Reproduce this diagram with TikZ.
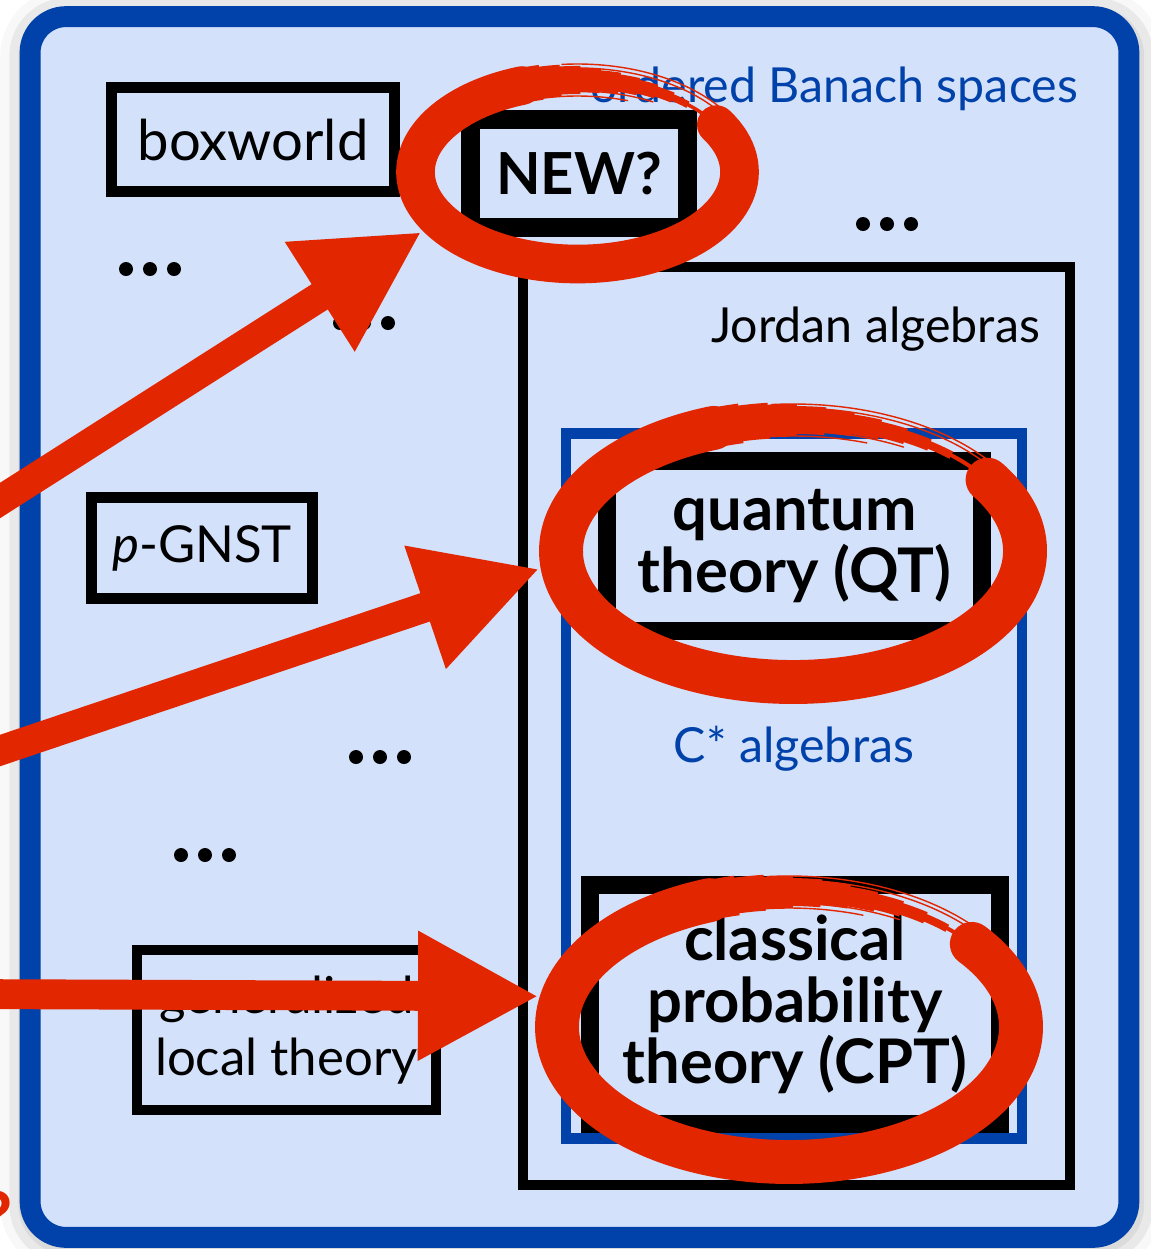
\documentclass[tikz,border=0pt]{standalone}
\usepackage{fontspec}
\setmainfont{Lato}
\usetikzlibrary{arrows.meta, shapes.geometric, shadows.blur}
\definecolor{cframe}{RGB}{0, 66, 170}
\definecolor{cpaper}{RGB}{211, 225, 250}
\definecolor{cred}{RGB}{225, 38, 0}

\begin{document}
\begin{tikzpicture}[
  x=0.02cm, y=-0.02cm,
  every node/.style={inner sep=0pt, outer sep=0pt},
  labeltxt/.style={font=\fontsize{27.5}{33}\selectfont, color=cframe},
  theory/.style={rectangle, draw, line width=6.2pt, align=center, font=\fontsize{29}{35}\selectfont},
  bigtheory/.style={rectangle, draw, line width=10.6pt, align=center, font=\fontsize{35}{35}\selectfont\bfseries},
  ringzone/.style={ellipse, inner sep=0pt},
  brush/.style={draw=cred, line cap=round},
  bigarrow/.style={cred, line width=17pt, -{Triangle[length=2.42cm, width=2.42cm]},
    preaction={draw=black, opacity=.3, transform canvas={shift={(2.5pt,-3.5pt)}}}},
]
\useasboundingbox (0,0) rectangle (1151,1249);

% ---- outer frame: ordered Banach spaces ----
\node[rectangle, rounded corners=0.72cm, draw=cframe, fill=cpaper, line width=11.9pt,
  minimum width=21.98cm, minimum height=24.42cm,
  blur shadow={shadow xshift=1pt, shadow yshift=-2pt, shadow blur radius=18pt, shadow opacity=45}]
  (universe) at (579.5,627) {};
\node[labeltxt, anchor=base east] (banachlabel) at (1078,102) {ordered Banach spaces};

% ---- nested classes ----
\node[rectangle, draw, line width=5.7pt, minimum width=10.94cm, minimum height=18.36cm] (jordan) at (796.5,726) {};
\node[labeltxt, color=black, anchor=base east] (jordanlabel) at (1040,342) {Jordan algebras};

\node[rectangle, draw=cframe, line width=6.2pt, minimum width=9.12cm, minimum height=14.12cm] (cstar) at (794,786) {};
\node[labeltxt, anchor=base] (cstarlabel) at (794,762) {C* algebras};

% ---- theories ----
\node[theory, font=\fontsize{32}{35}\selectfont, minimum width=5.66cm, minimum height=2.08cm] (boxworld) at (253,139.5) {boxworld};
\node[bigtheory, font=\fontsize{33}{35}\selectfont\bfseries, minimum width=4.33cm, minimum height=2.16cm] (newbox) at (579,173.5) {NEW?};
\node[theory, minimum width=4.42cm, minimum height=2.03cm] (pgnst) at (202,548) {\textit{p}-GNST};
\node[theory, minimum width=5.98cm, minimum height=3.2cm] (glt) at (286.5,1030) {generalized\\local theory};
\node[bigtheory, minimum width=7.5cm, minimum height=3.4cm] (qt) at (794.5,546) {quantum\\theory (QT)};
\node[bigtheory, minimum width=8.2cm, minimum height=4.78cm] (cpt) at (795,1004.5) {classical\\probability\\theory (CPT)};

% more theories ...
\foreach \x/\y in {150/269, 364/323, 887/224, 380/757, 205/855}
  \foreach \k in {-1,0,1}
    \fill (\x+24*\k,\y) circle[radius=7];

% ---- red brush rings ----
\node[ringzone, minimum width=7.32cm, minimum height=4.56cm] (newring) at (577.5,172) {};
\node[ringzone, minimum width=10.2cm, minimum height=6.16cm] (qtring) at (793,551) {};
\node[ringzone, minimum width=10.2cm, minimum height=6.32cm] (cptring) at (789,1027) {};

\foreach \ring/\rx/\ry/\from/\wd in {newring/162/92/-31/22pt, qtring/232/131/-33/25pt, cptring/232/135/-38/25pt}{
  \draw[brush, line width=\wd] (\ring.center) ++({\rx*cos(\from)},{\ry*sin(\from)})
    arc[start angle=\from, end angle=250, x radius=\rx, y radius=\ry];
  % brush running dry
  \foreach \i in {1,...,10}
    \draw[brush, line cap=butt, line width={(1-\i/11)*\wd}] (\ring.center) ++({\rx*cos(245)},{\ry*sin(245)})
      arc[start angle=245, end angle={250+7*\i}, x radius=\rx, y radius=\ry];
  % feathered streaks
  \foreach \dr/\a/\b in {-16/195/290, -11/205/300, 12/255/322, 16/265/326}
    \draw[brush, line width=0.8pt] (\ring.center) ++({(\rx+\dr)*cos(\a)},{(\ry+\dr)*sin(\a)})
      arc[start angle=\a, end angle=\b, x radius=\rx+\dr, y radius=\ry+\dr];
}

% ---- arrows from outside ----
\coordinate (fromleft1) at (-40,526);
\coordinate (fromleft2) at (-40,764);
\coordinate (fromleft3) at (-40,994);
\draw[bigarrow] (fromleft1) -- (newring.201);
\draw[bigarrow] (fromleft2) -- (qtring.184);
\draw[bigarrow] (fromleft3) -- (cptring.173);

\node[font=\fontsize{40}{40}\selectfont\bfseries, color=cred, anchor=base east] (hint) at (13,1242) {?};

\end{tikzpicture}
\end{document}
